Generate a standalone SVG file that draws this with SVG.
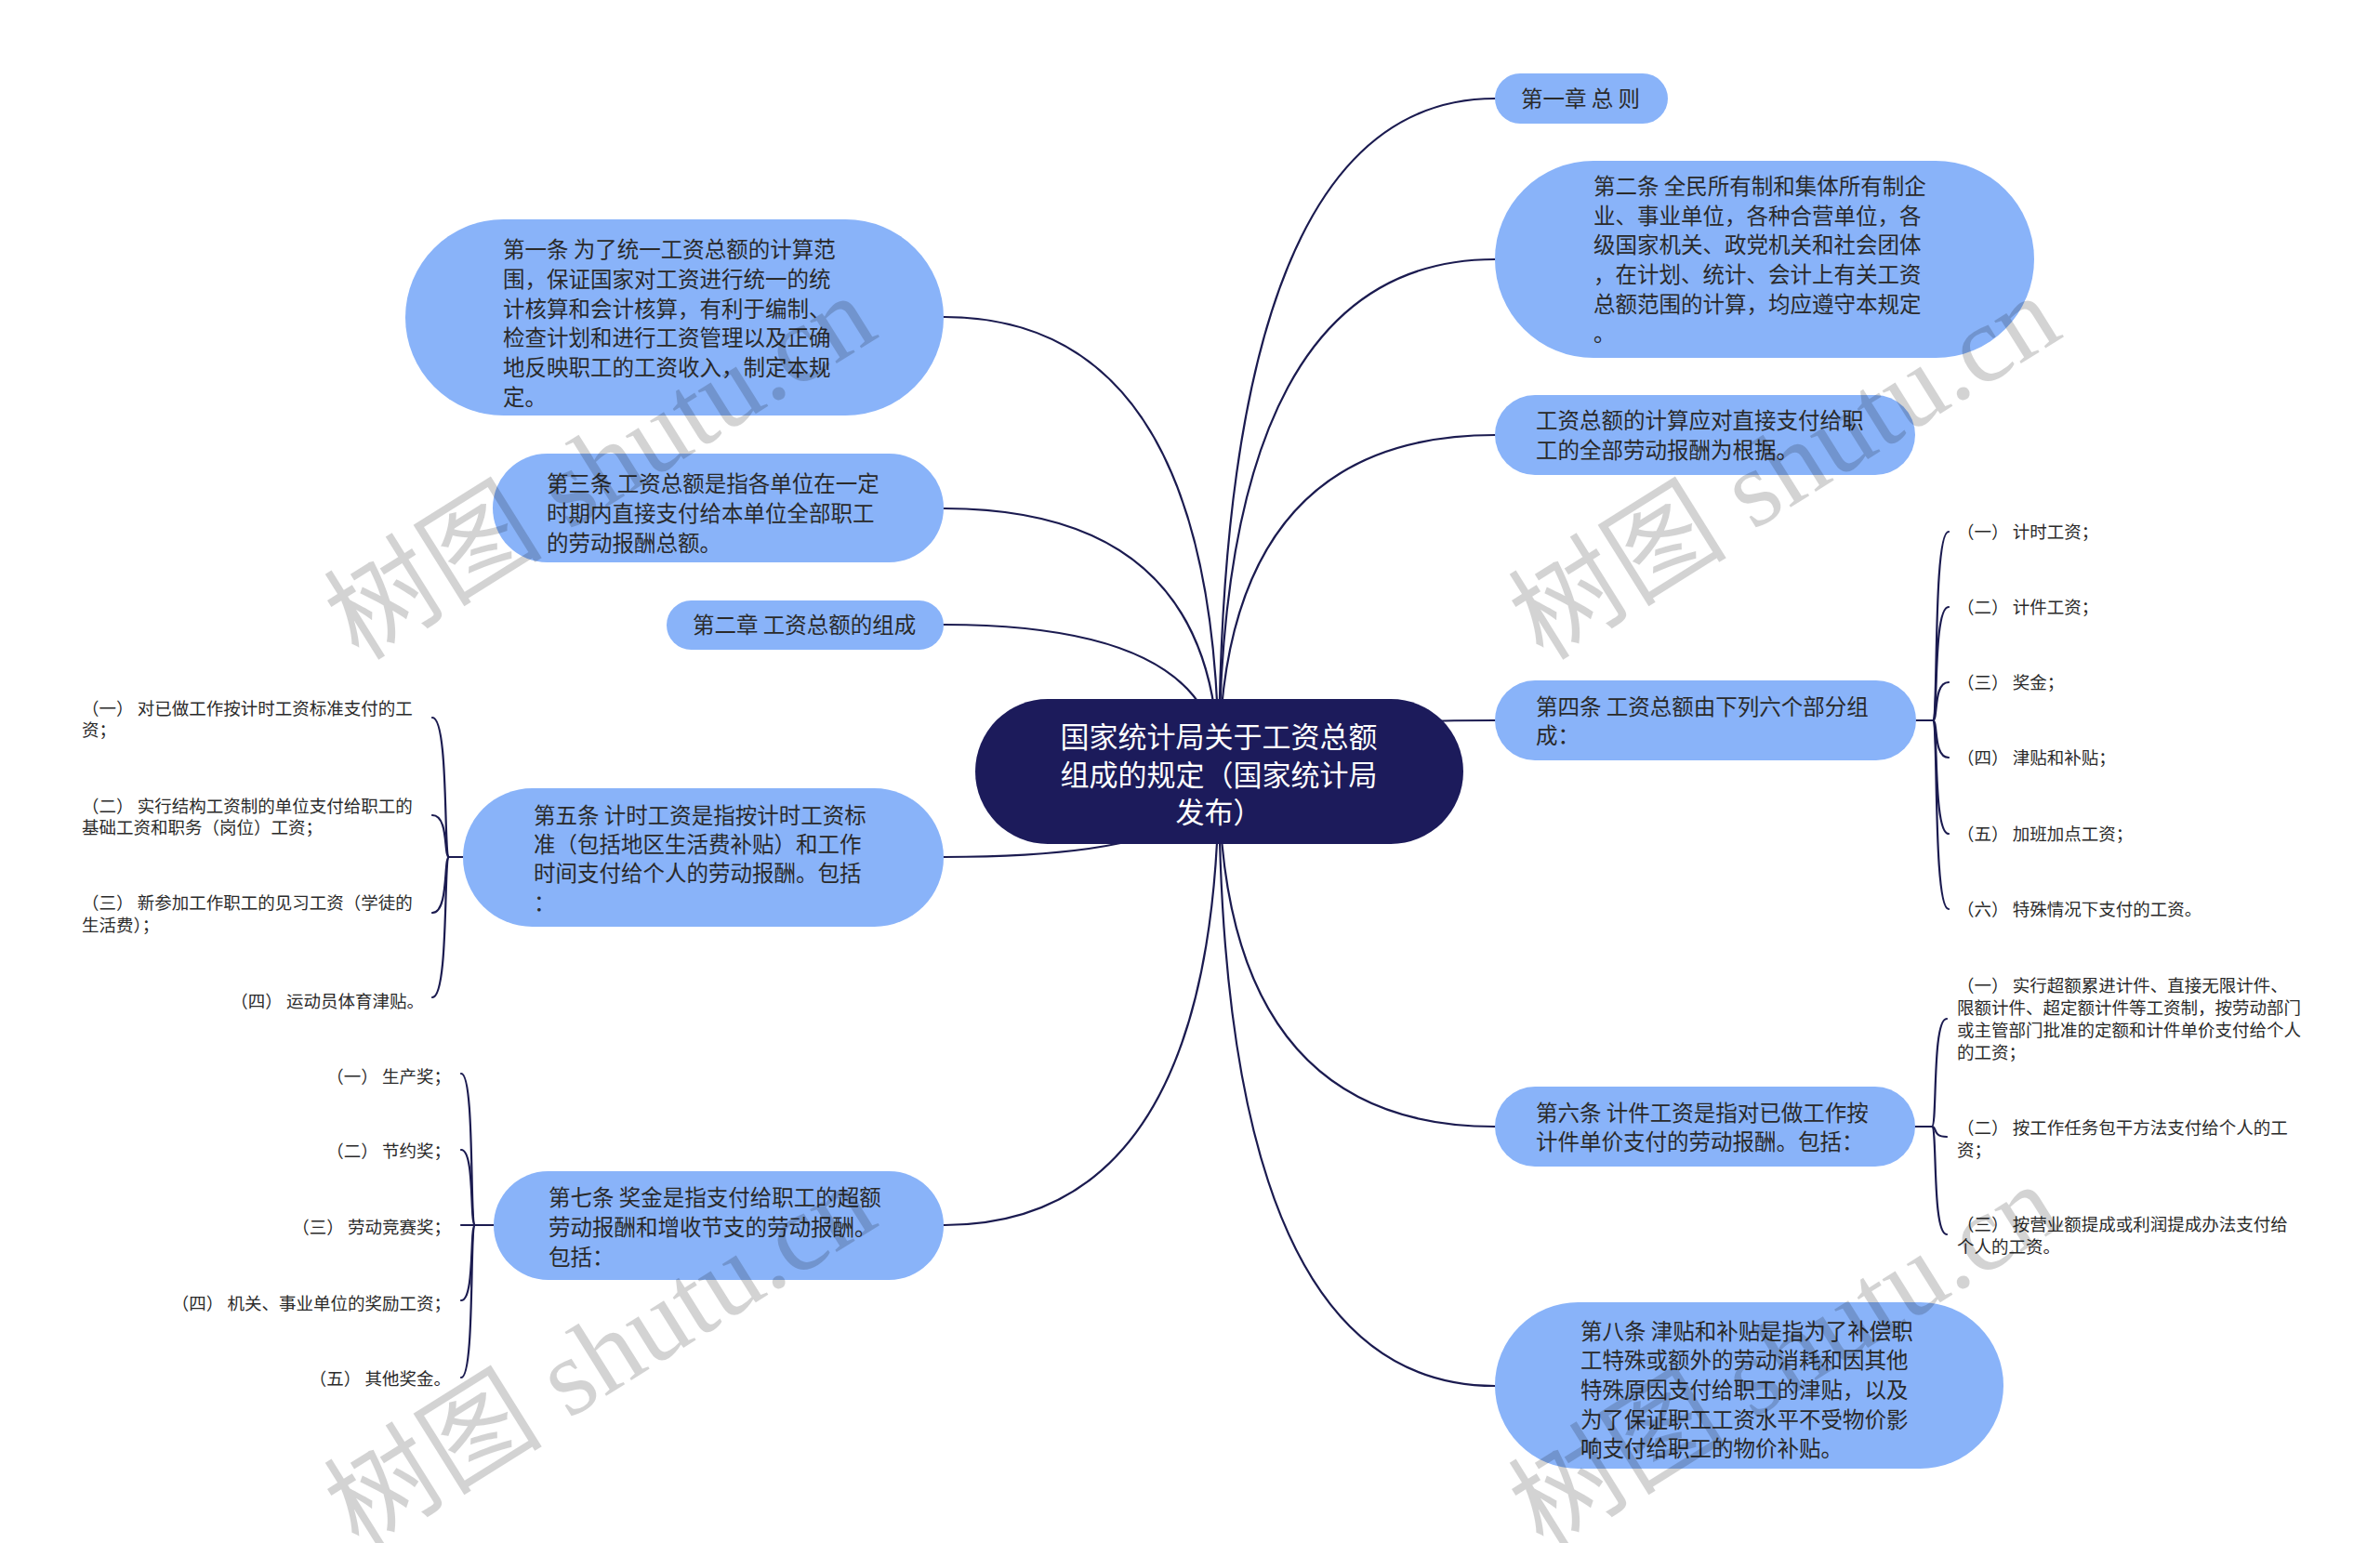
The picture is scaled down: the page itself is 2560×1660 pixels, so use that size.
<svg xmlns="http://www.w3.org/2000/svg" width="2560" height="1660" viewBox="0 0 2560 1660">
<style>
.bg{fill:#ffffff}
.ln{fill:none;stroke:#1b1b50;stroke-width:2.2;stroke-linecap:round}
.root{fill:#1c1b5b}
.rt{fill:#ffffff;font-family:"Noto Sans CJK SC","Noto Sans",sans-serif;font-size:31px}
.nd{fill:#89b3f9}
.t1{fill:#2a2a2a;font-family:"Noto Sans CJK SC","Noto Sans",sans-serif;font-size:23.5px}
.t2{fill:#2a2a2a;font-family:"Noto Sans CJK SC","Noto Sans",sans-serif;font-size:18.5px}
.wm{fill:#000000;opacity:0.17;font-family:"Liberation Serif","Noto Sans CJK SC",serif;font-size:118px}
</style>
<rect class="bg" x="0" y="0" width="2560" height="1660"/>
<g id="connectors">
<path class="ln" d="M1311 830 Q1311 106 1608 106"/>
<path class="ln" d="M1311 830 Q1311 279 1608 279"/>
<path class="ln" d="M1311 830 Q1311 468 1608 468"/>
<path class="ln" d="M1311 830 Q1311 775 1608 775"/>
<path class="ln" d="M1311 830 Q1311 1212 1608 1212"/>
<path class="ln" d="M1311 830 Q1311 1491 1608 1491"/>
<path class="ln" d="M1311 830 Q1311 341 1015 341"/>
<path class="ln" d="M1311 830 Q1311 547 1015 547"/>
<path class="ln" d="M1311 830 Q1311 672 1015 672"/>
<path class="ln" d="M1311 830 Q1311 922 1015 922"/>
<path class="ln" d="M1311 830 Q1311 1318 1015 1318"/>
<path class="ln" d="M2060 775 H2079"/>
<path class="ln" d="M2079 775 C2085 775 2079 572 2096 572"/>
<path class="ln" d="M2079 775 C2085 775 2079 653 2096 653"/>
<path class="ln" d="M2079 775 C2085 775 2079 734 2096 734"/>
<path class="ln" d="M2079 775 C2085 775 2079 815 2096 815"/>
<path class="ln" d="M2079 775 C2085 775 2079 897 2096 897"/>
<path class="ln" d="M2079 775 C2085 775 2079 978 2096 978"/>
<path class="ln" d="M2060 1212 H2078"/>
<path class="ln" d="M2078 1212 C2084 1212 2078 1096 2094 1096"/>
<path class="ln" d="M2078 1212 C2084 1212 2078 1223 2094 1223"/>
<path class="ln" d="M2078 1212 C2084 1212 2078 1328 2094 1328"/>
<path class="ln" d="M498 922 H483"/>
<path class="ln" d="M483 922 C477 922 483 772 465 772"/>
<path class="ln" d="M483 922 C477 922 483 877 465 877"/>
<path class="ln" d="M483 922 C477 922 483 982 465 982"/>
<path class="ln" d="M483 922 C477 922 483 1073 465 1073"/>
<path class="ln" d="M531 1318 H511"/>
<path class="ln" d="M511 1318 C505 1318 511 1155 496 1155"/>
<path class="ln" d="M511 1318 C505 1318 511 1237 496 1237"/>
<path class="ln" d="M511 1318 H496"/>
<path class="ln" d="M511 1318 C505 1318 511 1399 496 1399"/>
<path class="ln" d="M511 1318 C505 1318 511 1482 496 1482"/>
</g>
<g id="root">
<rect class="root" x="1049" y="752" width="525" height="156" rx="78"/>
<text class="rt" text-anchor="middle"><tspan x="1311" y="804">国家统计局关于工资总额</tspan><tspan x="1311" y="845">组成的规定（国家统计局</tspan><tspan x="1311" y="885">发布）</tspan></text>
</g>
<g id="n-ch1">
<rect class="nd" x="1608" y="79" width="186" height="54" rx="27"/>
<text class="t1" x="1636" y="115">第一章 总 则</text>
</g>
<g id="n-art2">
<rect class="nd" x="1608" y="173" width="580" height="212" rx="106"/>
<text class="t1"><tspan x="1714" y="209">第二条 全民所有制和集体所有制企</tspan><tspan x="1714" y="241">业、事业单位，各种合营单位，各</tspan><tspan x="1714" y="272">级国家机关、政党机关和社会团体</tspan><tspan x="1714" y="304">，在计划、统计、会计上有关工资</tspan><tspan x="1714" y="336">总额范围的计算，均应遵守本规定</tspan><tspan x="1714" y="367">。</tspan></text>
</g>
<g id="n-basis">
<rect class="nd" x="1608" y="425" width="452" height="86" rx="43"/>
<text class="t1"><tspan x="1652" y="461">工资总额的计算应对直接支付给职</tspan><tspan x="1652" y="493">工的全部劳动报酬为根据。</tspan></text>
</g>
<g id="n-art4">
<rect class="nd" x="1608" y="732" width="453" height="86" rx="43"/>
<text class="t1"><tspan x="1652" y="769">第四条 工资总额由下列六个部分组</tspan><tspan x="1652" y="800">成：</tspan></text>
</g>
<g id="n-art4-items">
<text class="t2" x="2105" y="579">（一） 计时工资；</text>
<text class="t2" x="2105" y="660">（二） 计件工资；</text>
<text class="t2" x="2105" y="741">（三） 奖金；</text>
<text class="t2" x="2105" y="822">（四） 津贴和补贴；</text>
<text class="t2" x="2105" y="904">（五） 加班加点工资；</text>
<text class="t2" x="2105" y="985">（六） 特殊情况下支付的工资。</text>
</g>
<g id="n-art6">
<rect class="nd" x="1608" y="1169" width="452" height="86" rx="43"/>
<text class="t1"><tspan x="1652" y="1206">第六条 计件工资是指对已做工作按</tspan><tspan x="1652" y="1237">计件单价支付的劳动报酬。包括：</tspan></text>
</g>
<g id="n-art6-items">
<text class="t2"><tspan x="2105" y="1067">（一） 实行超额累进计件、直接无限计件、</tspan><tspan x="2105" y="1091">限额计件、超定额计件等工资制，按劳动部门</tspan><tspan x="2105" y="1115">或主管部门批准的定额和计件单价支付给个人</tspan><tspan x="2105" y="1139">的工资；</tspan></text>
<text class="t2"><tspan x="2105" y="1220">（二） 按工作任务包干方法支付给个人的工</tspan><tspan x="2105" y="1244">资；</tspan></text>
<text class="t2"><tspan x="2105" y="1324">（三） 按营业额提成或利润提成办法支付给</tspan><tspan x="2105" y="1348">个人的工资。</tspan></text>
</g>
<g id="n-art8">
<rect class="nd" x="1608" y="1401" width="547" height="179" rx="89.5"/>
<text class="t1"><tspan x="1700" y="1441">第八条 津贴和补贴是指为了补偿职</tspan><tspan x="1700" y="1472">工特殊或额外的劳动消耗和因其他</tspan><tspan x="1700" y="1504">特殊原因支付给职工的津贴，以及</tspan><tspan x="1700" y="1536">为了保证职工工资水平不受物价影</tspan><tspan x="1700" y="1567">响支付给职工的物价补贴。</tspan></text>
</g>
<g id="n-art1">
<rect class="nd" x="436" y="236" width="579" height="211" rx="105.5"/>
<text class="t1"><tspan x="541" y="277">第一条 为了统一工资总额的计算范</tspan><tspan x="541" y="309">围，保证国家对工资进行统一的统</tspan><tspan x="541" y="341">计核算和会计核算，有利于编制、</tspan><tspan x="541" y="372">检查计划和进行工资管理以及正确</tspan><tspan x="541" y="404">地反映职工的工资收入，制定本规</tspan><tspan x="541" y="436">定。</tspan></text>
</g>
<g id="n-art3">
<rect class="nd" x="530" y="488" width="485" height="117" rx="58.5"/>
<text class="t1"><tspan x="588" y="529">第三条 工资总额是指各单位在一定</tspan><tspan x="588" y="561">时期内直接支付给本单位全部职工</tspan><tspan x="588" y="593">的劳动报酬总额。</tspan></text>
</g>
<g id="n-ch2">
<rect class="nd" x="717" y="646" width="298" height="53" rx="26.5"/>
<text class="t1" x="745" y="681">第二章 工资总额的组成</text>
</g>
<g id="n-art5">
<rect class="nd" x="498" y="848" width="517" height="149" rx="74.5"/>
<text class="t1"><tspan x="574" y="886">第五条 计时工资是指按计时工资标</tspan><tspan x="574" y="917">准（包括地区生活费补贴）和工作</tspan><tspan x="574" y="948">时间支付给个人的劳动报酬。包括</tspan><tspan x="574" y="980">：</tspan></text>
</g>
<g id="n-art5-items">
<text class="t2"><tspan x="88" y="769">（一） 对已做工作按计时工资标准支付的工</tspan><tspan x="88" y="792">资；</tspan></text>
<text class="t2"><tspan x="88" y="874">（二） 实行结构工资制的单位支付给职工的</tspan><tspan x="88" y="897">基础工资和职务（岗位）工资；</tspan></text>
<text class="t2"><tspan x="88" y="978">（三） 新参加工作职工的见习工资（学徒的</tspan><tspan x="88" y="1002">生活费）；</tspan></text>
<text class="t2" x="456" y="1084" text-anchor="end">（四） 运动员体育津贴。</text>
</g>
<g id="n-art7">
<rect class="nd" x="531" y="1260" width="484" height="117" rx="58.5"/>
<text class="t1"><tspan x="590" y="1297">第七条 奖金是指支付给职工的超额</tspan><tspan x="590" y="1329">劳动报酬和增收节支的劳动报酬。</tspan><tspan x="590" y="1361">包括：</tspan></text>
</g>
<g id="n-art7-items" text-anchor="end">
<text class="t2" x="485" y="1165">（一） 生产奖；</text>
<text class="t2" x="485" y="1245">（二） 节约奖；</text>
<text class="t2" x="485" y="1327">（三） 劳动竞赛奖；</text>
<text class="t2" x="485" y="1409">（四） 机关、事业单位的奖励工资；</text>
<text class="t2" x="485" y="1490">（五） 其他奖金。</text>
</g>
<g id="watermarks">
<text class="wm" transform="translate(386,712) rotate(-32)">树图 shutu.cn</text>
<text class="wm" transform="translate(1660,712) rotate(-32)">树图 shutu.cn</text>
<text class="wm" transform="translate(386,1668) rotate(-32)">树图 shutu.cn</text>
<text class="wm" transform="translate(1660,1668) rotate(-32)">树图 shutu.cn</text>
</g>
</svg>
